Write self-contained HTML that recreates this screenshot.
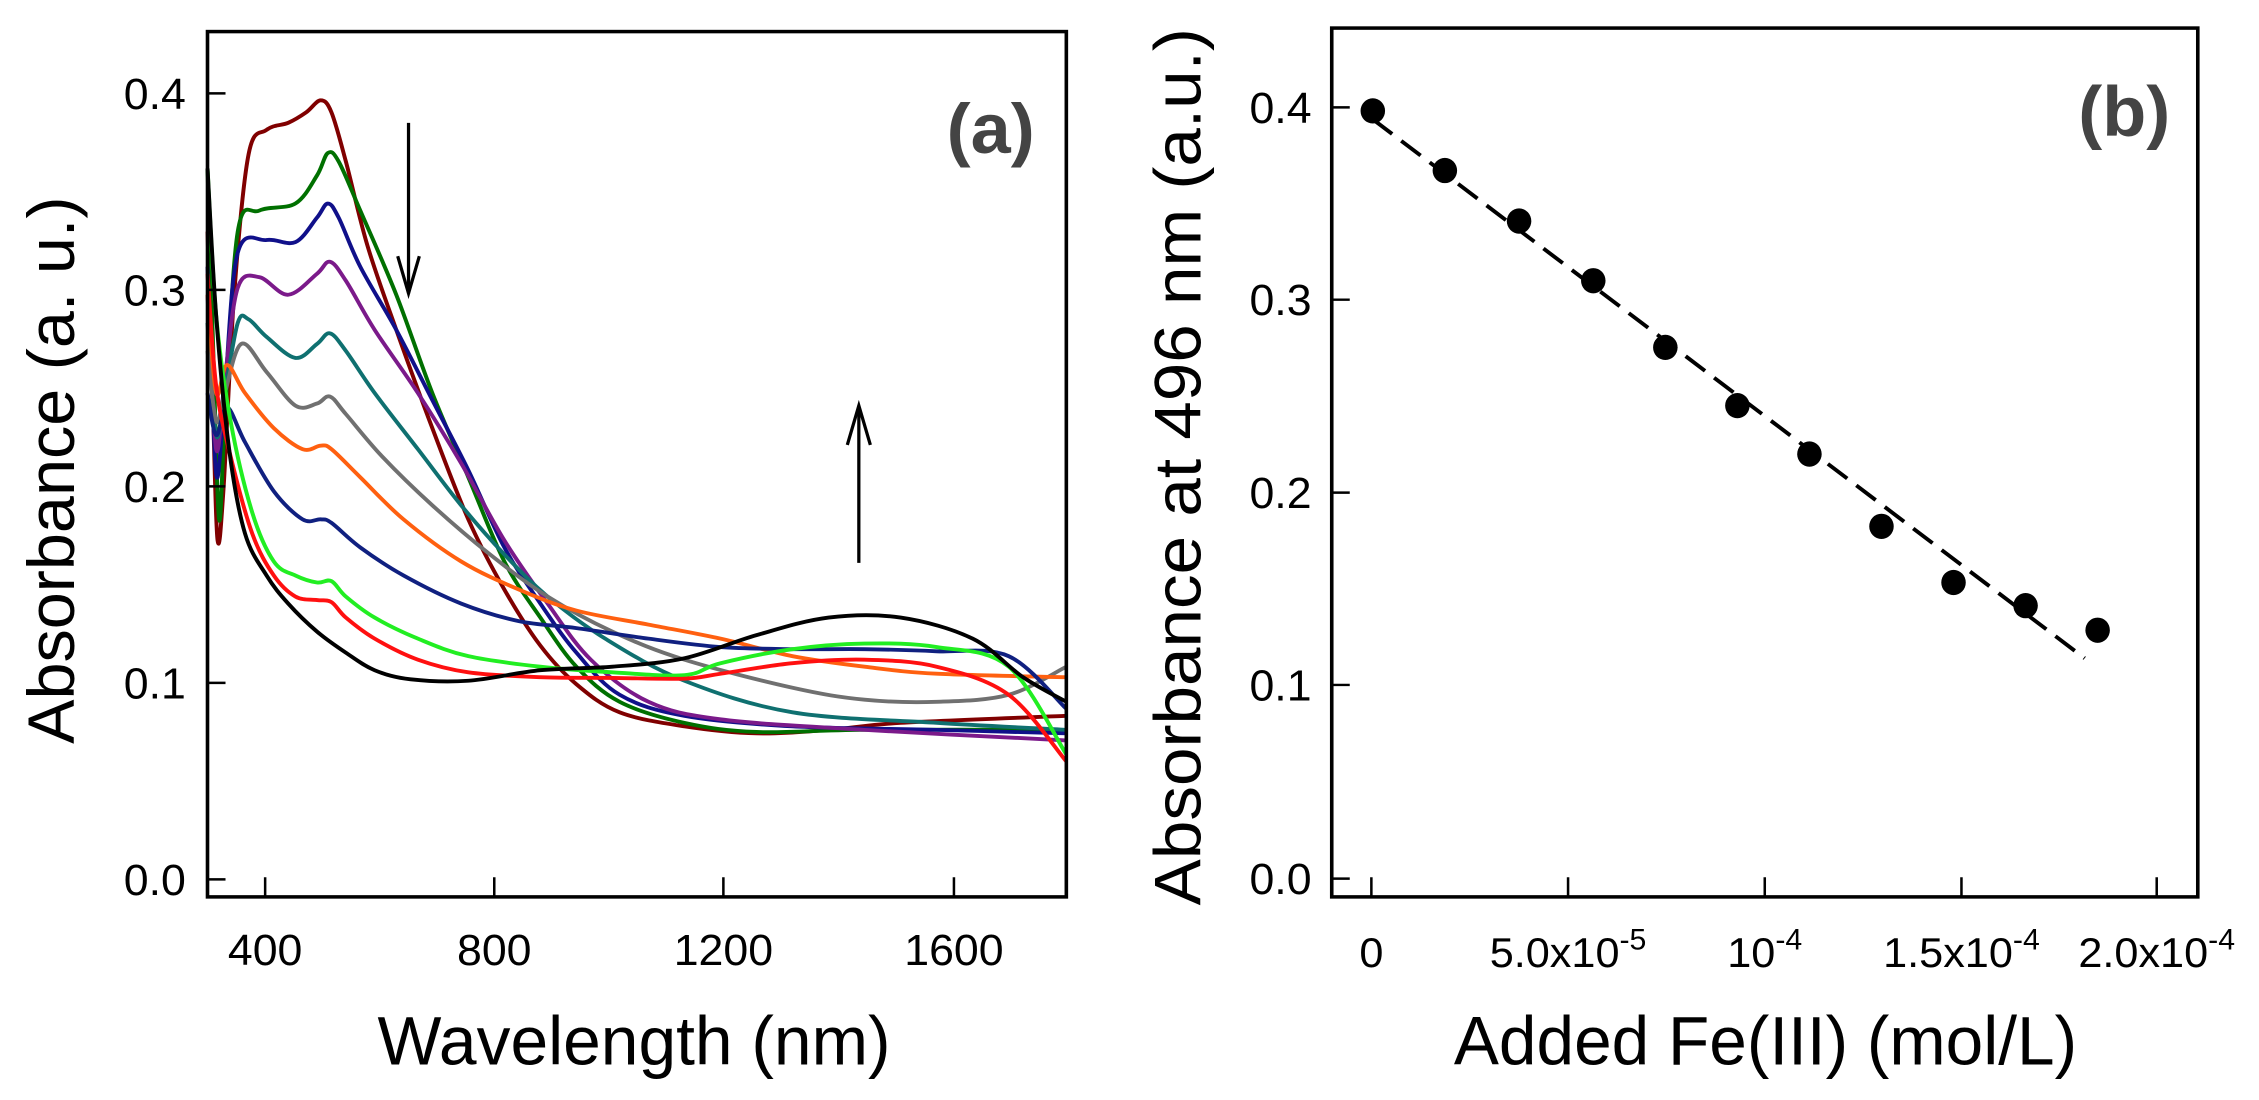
<!DOCTYPE html>
<html><head><meta charset="utf-8"><style>
html,body{margin:0;padding:0;background:#fff;}
svg{display:block;font-family:"Liberation Sans",Arial,sans-serif;}
</style></head><body>
<svg id="s" width="2259" height="1100" viewBox="0 0 2259 1100" xmlns="http://www.w3.org/2000/svg">
<g id="L" transform="scale(0.7205,0.7018)">
  <g id="curves" fill="none" stroke-width="5.5" stroke-linejoin="round"></g>
  <rect x="288" y="45" width="1192" height="1233" fill="none" stroke="#000" stroke-width="5"/>
  <g stroke="#000" stroke-width="3.5">
    <line x1="288" y1="133" x2="313" y2="133"/><line x1="288" y1="413" x2="313" y2="413"/>
    <line x1="288" y1="693" x2="313" y2="693"/><line x1="288" y1="973" x2="313" y2="973"/>
    <line x1="288" y1="1253" x2="313" y2="1253"/>
    <line x1="368" y1="1278" x2="368" y2="1250"/><line x1="686" y1="1278" x2="686" y2="1250"/>
    <line x1="1004" y1="1278" x2="1004" y2="1250"/><line x1="1324" y1="1278" x2="1324" y2="1250"/>
    <line x1="567" y1="175" x2="567" y2="418" stroke-width="4.5"/>
    <polyline points="552,365 567,418 582,365" fill="none" stroke-width="4.5"/>
    <line x1="1192" y1="802" x2="1192" y2="578" stroke-width="4.5"/>
    <polyline points="1176,634 1192,578 1208,634" fill="none" stroke-width="4.5"/>
  </g>
  <g font-size="62" text-anchor="end" fill="#000">
    <text x="258" y="155">0.4</text><text x="258" y="435">0.3</text>
    <text x="258" y="715">0.2</text><text x="258" y="995">0.1</text><text x="258" y="1275">0.0</text>
  </g>
  <g font-size="62" text-anchor="middle">
    <text x="368" y="1375">400</text><text x="686" y="1375">800</text>
    <text x="1004" y="1375">1200</text><text x="1324" y="1375">1600</text>
  </g>
  <text x="880" y="1517" font-size="98" text-anchor="middle" textLength="712" lengthAdjust="spacingAndGlyphs">Wavelength (nm)</text>
  <text transform="translate(103,670) rotate(-90)" font-size="92" text-anchor="middle" textLength="780" lengthAdjust="spacingAndGlyphs">Absorbance (a. u.)</text>
  <text x="1375" y="218" font-size="100" font-weight="bold" text-anchor="middle" fill="#444">(a)</text>
</g>
<g id="R" transform="translate(1130,0) scale(0.7205,0.7018)">
  <rect x="280" y="40" width="1202" height="1238" fill="none" stroke="#000" stroke-width="5"/>
  <g stroke="#000" stroke-width="3.5">
    <line x1="280" y1="153" x2="305" y2="153"/><line x1="280" y1="427" x2="305" y2="427"/>
    <line x1="280" y1="702" x2="305" y2="702"/><line x1="280" y1="976" x2="305" y2="976"/>
    <line x1="280" y1="1252" x2="305" y2="1252"/>
    <line x1="335" y1="1278" x2="335" y2="1250"/><line x1="608" y1="1278" x2="608" y2="1250"/>
    <line x1="881" y1="1278" x2="881" y2="1250"/><line x1="1154" y1="1278" x2="1154" y2="1250"/>
    <line x1="1425" y1="1278" x2="1425" y2="1250"/>
  </g>
  <line x1="337" y1="170" x2="1325" y2="938" stroke="#000" stroke-width="5.5" stroke-dasharray="34,16"/>
  <g fill="#000" id="pts"></g>
  <g font-size="62" text-anchor="end">
    <text x="252" y="175">0.4</text><text x="252" y="449">0.3</text>
    <text x="252" y="724">0.2</text><text x="252" y="998">0.1</text><text x="252" y="1274">0.0</text>
  </g>
  <g font-size="60" text-anchor="middle">
    <text x="335" y="1378">0</text>
    <text x="608" y="1378">5.0x10<tspan font-size="42" dy="-25">-5</tspan></text>
    <text x="881" y="1378">10<tspan font-size="42" dy="-25">-4</tspan></text>
    <text x="1154" y="1378">1.5x10<tspan font-size="42" dy="-25">-4</tspan></text>
    <text x="1425" y="1378">2.0x10<tspan font-size="42" dy="-25">-4</tspan></text>
  </g>
  <text x="882" y="1517" font-size="98" text-anchor="middle" textLength="865" lengthAdjust="spacingAndGlyphs">Added Fe(III) (mol/L)</text>
  <text transform="translate(98,665) rotate(-90)" font-size="92" text-anchor="middle" textLength="1250" lengthAdjust="spacingAndGlyphs">Absorbance  at 496 nm (a.u.)</text>
  <text x="1380" y="193" font-size="100" font-weight="bold" text-anchor="middle" fill="#444">(b)</text>
</g>
</svg>
<script>
var C=[
["#800000",[[288,330],[296,600],[302,770],[310,700],[325,420],[345,220],[370,185],[400,175],[425,160],[445,143],[460,160],[480,230],[510,350],[550,470],[600,610],[650,740],[700,840],[750,920],[800,975],[860,1015],[950,1035],[1050,1045],[1150,1040],[1250,1030],[1480,1020]]],
["#007000",[[288,240],[296,500],[304,740],[312,600],[330,330],[360,300],[410,290],[440,250],[455,218],[470,230],[500,300],[550,420],[600,560],[650,680],[700,800],[750,880],[800,950],[860,1000],[950,1030],[1050,1043],[1200,1040],[1480,1040]]],
["#10108a",[[288,380],[296,600],[302,680],[312,560],[330,360],[370,342],[410,345],[440,310],[455,290],[470,310],[500,380],[550,470],[600,570],[650,670],[700,780],[750,860],[800,930],[860,990],[950,1020],[1100,1035],[1300,1040],[1480,1045]]],
["#7b1a8a",[[288,420],[300,640],[312,540],[330,410],[360,395],[400,420],[440,390],[458,373],[480,400],[520,470],[580,560],[640,660],[700,770],[760,860],[820,940],[900,1000],[1000,1025],[1200,1040],[1480,1055]]],
["#0f7070",[[288,460],[300,620],[312,560],[330,460],[345,455],[370,480],[410,510],[440,490],[458,475],[480,500],[520,560],[580,640],[640,720],[700,790],[760,850],[840,910],[950,970],[1100,1015],[1300,1030],[1480,1040]]],
["#707070",[[288,500],[300,600],[312,560],[335,490],[370,530],[410,578],[440,575],[458,565],[480,590],[530,650],[600,720],[680,790],[760,850],[850,900],[950,940],[1100,980],[1200,997],[1300,1000],[1400,990],[1480,950]]],
["#ff6010",[[288,420],[300,560],[315,520],[340,560],[380,610],[420,640],[445,635],[460,640],[500,680],[560,740],[640,800],[720,840],[800,870],[900,890],[1000,910],[1100,935],[1200,950],[1300,960],[1480,965]]],
["#102080",[[288,560],[300,620],[315,580],[340,630],[380,700],[420,740],[445,740],[460,745],[500,780],[560,820],[640,860],[720,885],[800,895],[900,910],[1000,922],[1100,925],[1200,925],[1300,928],[1400,935],[1480,1010]]],
["#22ee22",[[288,240],[300,450],[320,600],[350,730],[380,800],[410,820],[440,830],[460,828],[480,850],[520,880],[580,910],[650,935],[750,950],[850,958],[950,962],[1000,945],[1100,925],[1200,917],[1300,922],[1400,950],[1480,1075]]],
["#ff1010",[[288,390],[300,550],[320,650],[350,760],[380,820],[410,850],[440,855],[460,858],[480,880],[520,910],[580,940],[650,958],[750,965],[850,966],[950,967],[1000,960],[1100,945],[1200,940],[1300,950],[1400,990],[1480,1085]]],
["#000000",[[288,240],[300,450],[318,640],[340,760],[370,820],[400,860],[440,900],[480,930],[520,955],[570,968],[650,970],[750,955],[850,950],[950,938],[1050,905],[1150,880],[1250,880],[1350,910],[1420,965],[1480,1000]]]
];
function cr(p){var d="M"+p[0][0]+","+p[0][1];for(var i=0;i<p.length-1;i++){var p0=p[i-1]||p[i],p1=p[i],p2=p[i+1],p3=p[i+2]||p2;
d+=" C"+(p1[0]+(p2[0]-p0[0])/6)+","+(p1[1]+(p2[1]-p0[1])/6)+" "+(p2[0]-(p3[0]-p1[0])/6)+","+(p2[1]-(p3[1]-p1[1])/6)+" "+p2[0]+","+p2[1];}return d;}
var ns="http://www.w3.org/2000/svg",g=document.getElementById("curves");
C.forEach(function(c){var p=document.createElementNS(ns,"path");p.setAttribute("d",cr(c[1]));p.setAttribute("stroke",c[0]);g.appendChild(p);});
var P=[[337,158],[437,243],[540,315],[643,400],[743,495],[843,578],[943,647],[1043,750],[1143,830],[1243,863],[1343,898]],pg=document.getElementById("pts");
P.forEach(function(q){var e=document.createElementNS(ns,"ellipse");e.setAttribute("cx",q[0]);e.setAttribute("cy",q[1]);e.setAttribute("rx",17);e.setAttribute("ry",18);pg.appendChild(e);});
</script>
</body></html>
